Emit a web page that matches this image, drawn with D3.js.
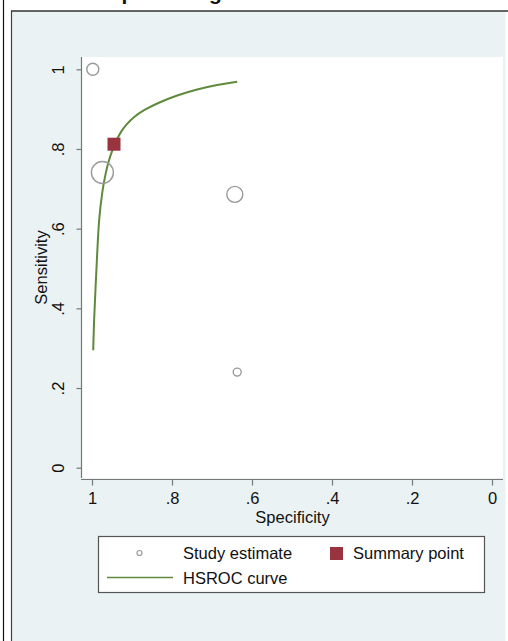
<!DOCTYPE html>
<html>
<head>
<meta charset="utf-8">
<script src="https://cdn.jsdelivr.net/npm/d3@7"></script>
<style>
  body { margin: 0; background: #fff; }
  svg { display: block; font-family: "Liberation Sans", Arial, Helvetica, sans-serif; }
</style>
</head>
<body>
<div id="chart"></div>
<script>
// study estimates (specificity, sensitivity, relative weight)
var studySpec = [0.998, 0.974, 0.643, 0.637];
var studySens = [1.0, 0.741, 0.686, 0.240];
var studyWeight = [36, 121, 64, 16];

// summary operating point
var summarySpec = [0.945];
var summarySens = [0.812];

// HSROC curve
var curveSpec = [0.997, 0.995, 0.991, 0.987, 0.983, 0.974, 0.966, 0.958, 0.949, 0.941,
                 0.928, 0.916, 0.895, 0.870, 0.837, 0.787, 0.737, 0.687, 0.637];
var curveSens = [0.295, 0.371, 0.454, 0.538, 0.622, 0.697, 0.739, 0.772, 0.797, 0.818,
                 0.843, 0.860, 0.881, 0.898, 0.915, 0.935, 0.950, 0.961, 0.969];

var tickVals = [0, 0.2, 0.4, 0.6, 0.8, 1];
var legendLabels = ["Study estimate", "Summary point", "HSROC curve"];

var W = 508, H = 641;
var bg = "#eaf2f3";
var green = "#5f8a3c";
var maroon = "#993340";
var grey = "#9a9a9a";
var fs = 16.5;

var svg = d3.select("#chart").append("svg")
    .attr("width", W)
    .attr("height", H);

// outer frame + graph region
svg.append("rect").attr("x", 0).attr("y", 0).attr("width", W).attr("height", H).attr("fill", "#fff");
svg.append("line").attr("x1", 3.5).attr("x2", 3.5).attr("y1", 0).attr("y2", H)
    .attr("stroke", "#111").attr("stroke-width", 1.2);
svg.append("rect").attr("x", 11.5).attr("y", 11).attr("width", 494).attr("height", H)
    .attr("fill", bg);
svg.append("line").attr("x1", 11.5).attr("x2", 11.5).attr("y1", 11).attr("y2", H)
    .attr("stroke", "#444").attr("stroke-width", 1.2);
svg.append("line").attr("x1", 11).attr("x2", W).attr("y1", 11).attr("y2", 11)
    .attr("stroke", "#333").attr("stroke-width", 1.5);

// title (mostly outside the crop, as in the source)
svg.append("text")
    .attr("x", 83).attr("y", -0.5)
    .attr("font-size", 21).attr("font-weight", "bold")
    .attr("fill", "#111")
    .text("Deep learning");

// plot region
var plot = { left: 82, right: 503, top: 57, bottom: 478 };
svg.append("rect")
    .attr("x", plot.left).attr("y", plot.top)
    .attr("width", plot.right - plot.left).attr("height", plot.bottom - plot.top)
    .attr("fill", "#fff");

var x = d3.scaleLinear().domain([1, 0]).range([92, 492]);
var y = d3.scaleLinear().domain([0, 1]).range([467.7, 69.3]);
var r = d3.scaleSqrt().domain([0, 121]).range([0, 11]);

var fmt = function(d) {
    if (d === 0 || d === 1) return String(d);
    return d3.format(".1f")(d).replace(/^0/, "");
};

// y axis
var yAxis = svg.append("g")
    .attr("transform", "translate(81.5,0)")
    .call(d3.axisLeft(y).tickValues(tickVals).tickFormat(fmt).tickSize(5).tickSizeOuter(0));
yAxis.select(".domain").attr("d", "M0," + plot.top + "V" + plot.bottom);
yAxis.selectAll("line, .domain").attr("stroke", "#777").attr("stroke-width", 1.2);
yAxis.selectAll("text")
    .attr("x", 0).attr("dy", 0)
    .attr("transform", "translate(-17.5,0) rotate(-90)")
    .attr("text-anchor", "middle")
    .attr("font-size", fs).attr("fill", "#111");

// x axis
var xAxis = svg.append("g")
    .attr("transform", "translate(0,479.5)")
    .call(d3.axisBottom(x).tickValues(tickVals).tickFormat(fmt).tickSize(6).tickSizeOuter(0));
xAxis.select(".domain").attr("d", "M" + (plot.left - 1) + ",0H" + plot.right);
xAxis.selectAll("line, .domain").attr("stroke", "#777").attr("stroke-width", 1.2);
xAxis.selectAll("text")
    .attr("y", 24).attr("dy", 0)
    .attr("font-size", fs).attr("fill", "#111");

// axis titles
svg.append("text")
    .attr("x", (plot.left + plot.right) / 2).attr("y", 523)
    .attr("text-anchor", "middle").attr("font-size", fs).attr("fill", "#111")
    .text("Specificity");
svg.append("text")
    .attr("transform", "translate(46.5," + ((plot.top + plot.bottom) / 2) + ") rotate(-90)")
    .attr("text-anchor", "middle").attr("font-size", fs).attr("fill", "#111")
    .text("Sensitivity");

// HSROC curve
var line = d3.line()
    .x(function(d) { return x(d[0]); })
    .y(function(d) { return y(d[1]); })
    .curve(d3.curveBasis);
svg.append("path")
    .datum(d3.zip(curveSpec, curveSens))
    .attr("d", line)
    .attr("fill", "none")
    .attr("stroke", green)
    .attr("stroke-width", 2);

// study estimates
svg.append("g").selectAll("circle")
    .data(d3.range(studySpec.length))
    .join("circle")
    .attr("cx", function(i) { return x(studySpec[i]); })
    .attr("cy", function(i) { return y(studySens[i]); })
    .attr("r", function(i) { return r(studyWeight[i]); })
    .attr("fill", "none")
    .attr("stroke", grey)
    .attr("stroke-width", 1.4);

// summary point
var sq = 13;
svg.append("g").selectAll("rect")
    .data(d3.zip(summarySpec, summarySens))
    .join("rect")
    .attr("x", function(d) { return x(d[0]) - sq / 2; })
    .attr("y", function(d) { return y(d[1]) - sq / 2; })
    .attr("width", sq).attr("height", sq)
    .attr("fill", maroon);

// legend
var lg = svg.append("g");
lg.append("rect")
    .attr("x", 98.5).attr("y", 536.5).attr("width", 386).attr("height", 56)
    .attr("fill", "#fff").attr("stroke", "#555").attr("stroke-width", 1.2);
lg.append("circle").attr("cx", 139.5).attr("cy", 553).attr("r", 2.5)
    .attr("fill", "none").attr("stroke", grey).attr("stroke-width", 1.2);
lg.append("rect").attr("x", 330).attr("y", 547).attr("width", 13).attr("height", 13)
    .attr("fill", maroon);
lg.append("line").attr("x1", 107).attr("x2", 173).attr("y1", 577.5).attr("y2", 577.5)
    .attr("stroke", green).attr("stroke-width", 1.5);
var lx = [183, 353, 183], ly = [559, 559, 583.5];
lg.selectAll("text")
    .data(legendLabels)
    .join("text")
    .attr("x", function(d, i) { return lx[i]; })
    .attr("y", function(d, i) { return ly[i]; })
    .attr("font-size", fs).attr("fill", "#111")
    .text(function(d) { return d; });
</script>
</body>
</html>
